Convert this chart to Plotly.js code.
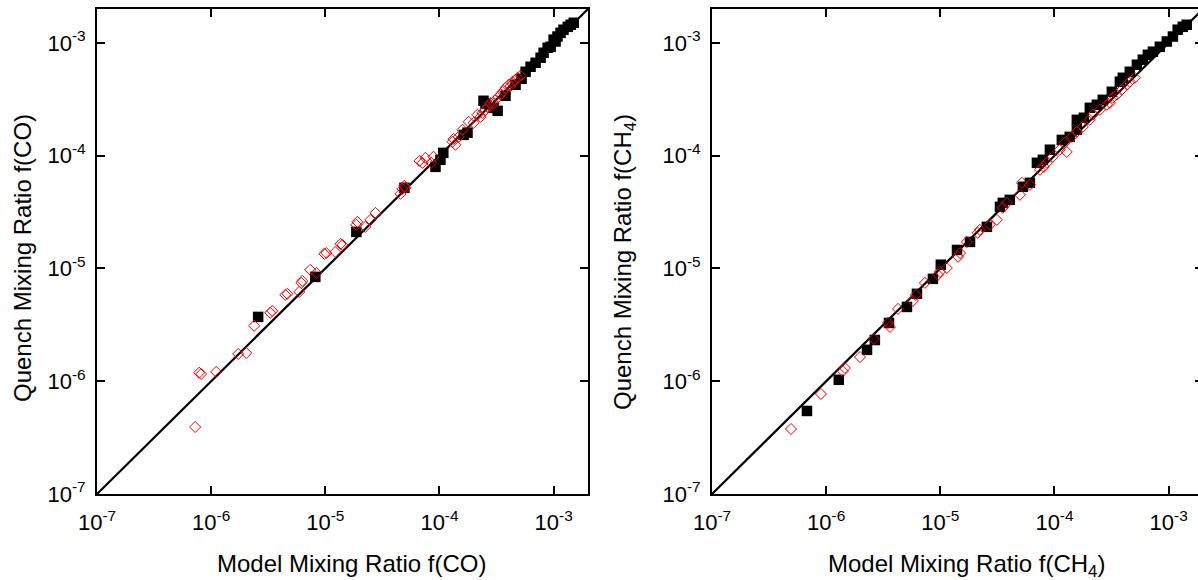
<!DOCTYPE html>
<html>
<head>
<meta charset="utf-8">
<script src="https://cdn.plot.ly/plotly-3.0.1.min.js"></script>
<style>
  html, body { margin: 0; padding: 0; overflow: hidden; background: #fff; }
  #chart { width: 1206px; height: 580px; }
</style>
</head>
<body>
<div id="chart"></div>
<script>
// ---------- Data ----------
// Tick values and labels shared by all axes
const tickValues = [1e-7, 1e-6, 1e-5, 1e-4, 1e-3];
const tickLabels = ['10<sup>-7</sup>', '10<sup>-6</sup>', '10<sup>-5</sup>', '10<sup>-4</sup>', '10<sup>-3</sup>'];
const axisMin = 1e-7;
const axisMax = 2e-3;

// Left panel: CO, filled black squares
const coBlackModel = [2.58e-6, 8.17e-6, 1.87e-5, 4.93e-5, 9.23e-5, 1.02e-4, 1.08e-4, 1.63e-4, 2.43e-4, 2.53e-4,
  2.98e-4, 3.23e-4, 1.76e-4, 5.68e-4, 6.28e-4, 6.95e-4, 7.69e-4, 8.17e-4, 8.86e-4, 1.0e-3,
  1.08e-3, 1.15e-3, 1.22e-3, 1.33e-3, 1.41e-3, 1.50e-3, 3.79e-4, 4.64e-4, 5.24e-4, 1.04e-3, 9.42e-4];
const coBlackQuench = [3.72e-6, 8.42e-6, 2.11e-5, 5.19e-5, 7.97e-5, 9.2e-5, 1.06e-4, 1.53e-4, 3.07e-4, 2.89e-4,
  2.66e-4, 2.5e-4, 1.6e-4, 5.55e-4, 6.15e-4, 6.67e-4, 7.39e-4, 8.18e-4, 9.06e-4, 1.07e-3,
  1.14e-3, 1.23e-3, 1.31e-3, 1.39e-3, 1.45e-3, 1.51e-3, 3.4e-4, 4.26e-4, 4.81e-4, 1.03e-3, 9.25e-4];

// Left panel: CO, open red diamonds
const coRedModel = [7.24e-7, 7.85e-7, 8.17e-7, 1.107e-6, 1.726e-6, 2.03e-6, 2.38e-6, 3.29e-6, 3.43e-6, 4.46e-6,
  4.64e-6, 5.91e-6, 6.16e-6, 6.28e-6, 7.38e-6, 8.34e-6, 9.8e-6, 1.02e-5, 1.22e-5, 1.355e-5,
  1.41e-5, 1.87e-5, 1.91e-5, 2.24e-5, 2.48e-5, 2.75e-5, 4.55e-5, 4.73e-5, 4.93e-5, 5.03e-5,
  6.68e-5, 7.1e-5, 7.54e-5, 8.5e-5, 8.86e-5, 1.30e-4, 1.38e-4, 1.33e-4, 1.80e-4, 1.99e-4,
  2.15e-4, 2.38e-4, 2.64e-4, 2.80e-4, 3.10e-4, 3.30e-4, 3.57e-4, 3.79e-4, 4.03e-4, 4.37e-4,
  4.83e-4, 5.14e-4, 2.29e-4, 2.53e-4, 2.98e-4, 3.43e-4, 4.2e-4, 4.64e-4, 1.59e-4, 1.47e-4];
const coRedQuench = [3.93e-7, 1.19e-6, 1.16e-6, 1.21e-6, 1.746e-6, 1.78e-6, 3.10e-6, 4.04e-6, 4.2e-6, 5.83e-6,
  5.96e-6, 6.2e-6, 7.45e-6, 7.76e-6, 9.72e-6, 9.14e-6, 1.35e-5, 1.37e-5, 1.40e-5, 1.65e-5,
  1.62e-5, 2.44e-5, 2.59e-5, 2.34e-5, 2.70e-5, 3.11e-5, 4.59e-5, 5.08e-5, 5.41e-5, 5.19e-5,
  9.0e-5, 8.65e-5, 9.58e-5, 8.65e-5, 9.78e-5, 1.33e-4, 1.25e-4, 1.41e-4, 2.0e-4, 1.96e-4,
  2.31e-4, 2.40e-4, 2.72e-4, 2.94e-4, 3.13e-4, 3.33e-4, 3.69e-4, 4.0e-4, 4.26e-4, 4.53e-4,
  4.91e-4, 5.12e-4, 2.21e-4, 2.55e-4, 2.89e-4, 3.47e-4, 4.17e-4, 4.71e-4, 1.70e-4, 1.47e-4];

// Right panel: CH4, filled black squares
const ch4BlackModel = [6.79e-7, 1.29e-6, 2.28e-6, 2.67e-6, 3.55e-6, 5.1e-6, 6.24e-6, 8.61e-6, 1.01e-5, 1.40e-5,
  1.82e-5, 2.56e-5, 3.33e-5, 3.53e-5, 5.29e-5, 6.09e-5, 7.02e-5, 7.91e-5, 1.16e-4, 1.36e-4,
  1.57e-4, 1.57e-4, 2.04e-4, 2.65e-4, 3.74e-4, 3.97e-4, 5.27e-4, 5.94e-4, 6.58e-4, 7.28e-4,
  8.37e-4, 9.64e-4, 1.09e-3, 1.20e-3, 1.33e-3, 1.44e-3, 4.57e-4, 9.12e-5, 4.06e-5, 1.81e-4,
  2.35e-4, 3.18e-4];
const ch4BlackQuench = [5.45e-7, 1.03e-6, 1.90e-6, 2.32e-6, 3.29e-6, 4.56e-6, 5.96e-6, 8.09e-6, 1.08e-5, 1.46e-5,
  1.72e-5, 2.34e-5, 3.52e-5, 3.82e-5, 5.3e-5, 5.75e-5, 8.65e-5, 9.2e-5, 1.38e-4, 1.47e-4,
  1.70e-4, 2.08e-4, 2.66e-4, 3.13e-4, 4.53e-4, 4.91e-4, 6.41e-4, 7.1e-4, 7.85e-4, 8.36e-4,
  9.25e-4, 1.03e-3, 1.14e-3, 1.31e-3, 1.39e-3, 1.45e-3, 5.55e-4, 1.13e-4, 4.06e-5, 2.17e-4,
  2.83e-4, 3.69e-4];

// Right panel: CH4, open red diamonds
const ch4RedModel = [4.92e-7, 9.0e-7, 1.40e-6, 1.46e-6, 1.98e-6, 2.62e-6, 3.62e-6, 3.48e-6, 4.26e-6, 5.75e-6,
  6.11e-6, 7.33e-6, 9.53e-6, 9.91e-6, 1.14e-5, 1.43e-5, 1.49e-5, 1.71e-5, 2.13e-5, 2.22e-5,
  2.72e-5, 3.13e-5, 3.83e-5, 4.98e-5, 5.19e-5, 7.45e-5, 8.57e-5, 8.07e-5, 9.68e-5, 1.11e-4,
  1.23e-4, 1.28e-4, 1.42e-4, 1.57e-4, 1.77e-4, 2.04e-4, 2.17e-4, 2.50e-4, 2.88e-4, 3.06e-4,
  3.24e-4, 3.52e-4, 3.89e-4, 4.31e-4, 4.57e-4, 5.06e-4, 3.53e-5, 6.09e-5];
const ch4RedQuench = [3.77e-7, 7.71e-7, 1.23e-6, 1.31e-6, 1.64e-6, 2.37e-6, 3.03e-6, 3.29e-6, 4.38e-6, 5.16e-6,
  5.83e-6, 7.45e-6, 8.77e-6, 9.33e-6, 1.01e-5, 1.27e-5, 1.37e-5, 1.72e-5, 2.07e-5, 2.2e-5,
  2.44e-5, 2.7e-5, 3.82e-5, 4.5e-5, 5.75e-5, 7.5e-5, 8.65e-5, 7.97e-5, 9.78e-5, 1.13e-4,
  1.30e-4, 1.08e-4, 1.47e-4, 1.63e-4, 1.80e-4, 2.08e-4, 2.31e-4, 2.55e-4, 2.83e-4, 2.94e-4,
  3.27e-4, 3.47e-4, 3.85e-4, 4.26e-4, 4.53e-4, 4.91e-4, 3.45e-5, 5.52e-5];

// One-to-one reference line endpoints
const oneToOne = [axisMin, axisMax];

// ---------- Plot ----------
(function () {
  const FONT = 'Liberation Sans, Arial, Helvetica, sans-serif';
  const RED = '#e60000';

  function lineTrace(xa, ya) {
    return { x: oneToOne, y: oneToOne, xaxis: xa, yaxis: ya, mode: 'lines',
      line: { color: '#000', width: 2.2 }, hoverinfo: 'skip', showlegend: false };
  }
  function blackTrace(x, y, xa, ya) {
    return { x: x, y: y, xaxis: xa, yaxis: ya, mode: 'markers', showlegend: false,
      marker: { symbol: 'square', size: 10.5, color: '#000', line: { width: 0 } } };
  }
  function redTrace(x, y, xa, ya) {
    return { x: x, y: y, xaxis: xa, yaxis: ya, mode: 'markers', showlegend: false,
      marker: { symbol: 'diamond-open', size: 8.5, color: RED, line: { color: RED, width: 1 } } };
  }

  const data = [
    lineTrace('x', 'y'),
    blackTrace(coBlackModel, coBlackQuench, 'x', 'y'),
    redTrace(coRedModel, coRedQuench, 'x', 'y'),
    lineTrace('x2', 'y2'),
    blackTrace(ch4BlackModel, ch4BlackQuench, 'x2', 'y2'),
    redTrace(ch4RedModel, ch4RedQuench, 'x2', 'y2')
  ];

  const logRange = [Math.log10(axisMin), Math.log10(axisMax)];

  function axis(extra) {
    return Object.assign({
      type: 'log', range: logRange, tickmode: 'array',
      tickvals: tickValues, ticktext: tickLabels,
      ticks: 'inside', ticklen: 8, tickwidth: 2, tickcolor: '#000',
      showline: true, linewidth: 2, linecolor: '#000', mirror: 'allticks',
      showgrid: false, zeroline: false,
      tickfont: { family: FONT, size: 22, color: '#000' }
    }, extra);
  }

  const W = 1206;
  const pL = 97, pR = 1203, pT = 9, pB = 494;
  const pw = pR - pL;
  const dom1 = [0, (588 - pL) / pw];
  const dom2 = [(712 - pL) / pw, 1];

  const titleFont = { family: FONT, size: 24, color: '#000' };
  function fx(x) { return (x - pL) / pw; }
  function fy(y) { return (pB - y) / (pB - pT); }

  const layout = {
    width: W, height: 580,
    margin: { l: pL, r: W - pR, t: pT, b: 580 - pB, pad: 0 },
    paper_bgcolor: '#fff', plot_bgcolor: '#fff',
    showlegend: false,
    xaxis: axis({ domain: dom1, anchor: 'y', ticklabelstandoff: 8 }),
    yaxis: axis({ domain: [0, 1], anchor: 'x', ticklabelstandoff: 5 }),
    xaxis2: axis({ domain: dom2, anchor: 'y2', ticklabelstandoff: 8 }),
    yaxis2: axis({ domain: [0, 1], anchor: 'x2', ticklabelstandoff: 5 }),
    annotations: [
      { text: 'Model Mixing Ratio f(CO)', xref: 'paper', yref: 'paper', x: fx(351), y: fy(563),
        showarrow: false, font: titleFont, xanchor: 'center', yanchor: 'middle' },
      { text: 'Quench Mixing Ratio f(CO)', xref: 'paper', yref: 'paper', x: fx(22), y: fy(258),
        showarrow: false, font: titleFont, textangle: -90, xanchor: 'center', yanchor: 'middle' },
      { text: 'Model Mixing Ratio f(CH<sub>4</sub>)', xref: 'paper', yref: 'paper', x: fx(966), y: fy(565),
        showarrow: false, font: titleFont, xanchor: 'center', yanchor: 'middle' },
      { text: 'Quench Mixing Ratio f(CH<sub>4</sub>)', xref: 'paper', yref: 'paper', x: fx(624), y: fy(262),
        showarrow: false, font: titleFont, textangle: -90, xanchor: 'center', yanchor: 'middle' }
    ]
  };

  Plotly.newPlot('chart', data, layout, { displayModeBar: false, staticPlot: true });
})();
</script>
</body>
</html>
